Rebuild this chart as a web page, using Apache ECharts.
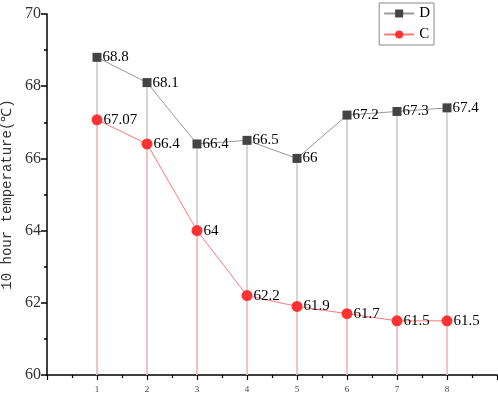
<!DOCTYPE html>
<html>
<head>
<meta charset="utf-8">
<script src="https://cdn.jsdelivr.net/npm/echarts@6/dist/echarts.min.js"></script>
<style>
html,body{margin:0;padding:0;background:#fff;}
#chart{width:498px;height:397px;}
</style>
</head>
<body>
<div id="chart"></div>
<script>
var xList = [1, 2, 3, 4, 5, 6, 7, 8];
var dList = [68.8, 68.1, 66.4, 66.5, 66, 67.2, 67.3, 67.4];
var cList = [67.07, 66.4, 64, 62.2, 61.9, 61.7, 61.5, 61.5];
var yTicks = [60, 62, 64, 66, 68, 70];

var serif = '"Liberation Serif", "DejaVu Serif", serif';

// 把x和y拼成点
function toPoints(ys){
	var arr = [];
	for(var i=0;i<xList.length;i++){
		arr.push([xList[i], ys[i]]);
	}
	return arr;
}

// 从点往下到60的竖线
function dropLines(ys){
	var arr = [];
	for(var i=0;i<xList.length;i++){
		arr.push([{coord:[xList[i], ys[i]]}, {coord:[xList[i], yTicks[0]]}]);
	}
	return arr;
}

var myChart = echarts.init(document.getElementById('chart'));
var option = {
	animation: false,
	grid: {left: 47, right: 1, top: 14, bottom: 22, containLabel: false, outerBoundsMode: 'none'},
	legend: {
		right: 64,
		top: 3,
		orient: 'vertical',
		itemWidth: 30,
		itemHeight: 10,
		itemGap: 6,
		padding: [3, 4, 3, 4],
		borderColor: '#888',
		borderWidth: 1,
		textStyle: {fontFamily: serif, fontSize: 15, color: '#000'},
		data: ['D', 'C']
	},
	xAxis: {
		type: 'value',
		min: 0,
		max: 9,
		interval: 1,
		axisLine: {lineStyle: {color: '#000', width: 1.5}},
		axisTick: {inside: false, length: 5, lineStyle: {color: '#000', width: 1.2}},
		minorTick: {show: true, splitNumber: 2, length: 3, lineStyle: {color: '#000', width: 1.2}},
		splitLine: {show: false},
		axisLabel: {
			fontFamily: serif, fontSize: 9, color: '#444', margin: 10,
			formatter: function(v){ return (v >= 1 && v <= 8) ? v : ''; }
		}
	},
	yAxis: {
		type: 'value',
		min: 60,
		max: 70,
		interval: 2,
		name: '10 hour temperature(℃)',
		nameLocation: 'middle',
		nameGap: 29,
		nameTextStyle: {fontFamily: '"Liberation Mono", monospace', fontSize: 14, color: '#333'},
		axisLine: {show: true, lineStyle: {color: '#000', width: 1.5}},
		axisTick: {show: true, inside: false, length: 6, lineStyle: {color: '#000', width: 1.5}},
		minorTick: {show: true, splitNumber: 2, length: 3, lineStyle: {color: '#000', width: 1.5}},
		splitLine: {show: false},
		axisLabel: {fontFamily: serif, fontSize: 16, color: '#333', margin: 6}
	},
	series: [
		{
			name: 'D',
			type: 'line',
			data: toPoints(dList),
			symbol: 'rect',
			symbolSize: 9,
			itemStyle: {color: '#444'},
			lineStyle: {color: '#999', width: 1},
			z: 3,
			label: {show: true, position: 'right', distance: 1, fontFamily: serif, fontSize: 15, color: '#000'},
			markLine: {
				silent: true, symbol: 'none', label: {show: false},
				lineStyle: {color: '#c8c8c8', width: 1.5, type: 'solid'},
				data: dropLines(dList),
				z: 1
			}
		},
		{
			name: 'C',
			type: 'line',
			data: toPoints(cList),
			symbol: 'circle',
			symbolSize: 11,
			itemStyle: {color: '#ff3333'},
			lineStyle: {color: '#ff7777', width: 1},
			z: 4,
			label: {show: true, position: 'right', distance: 1, fontFamily: serif, fontSize: 15, color: '#000'},
			markLine: {
				silent: true, symbol: 'none', label: {show: false},
				lineStyle: {color: '#ffb8b8', width: 1.5, type: 'solid'},
				data: dropLines(cList),
				z: 2
			}
		}
	]
};
myChart.setOption(option);
</script>
</body>
</html>
